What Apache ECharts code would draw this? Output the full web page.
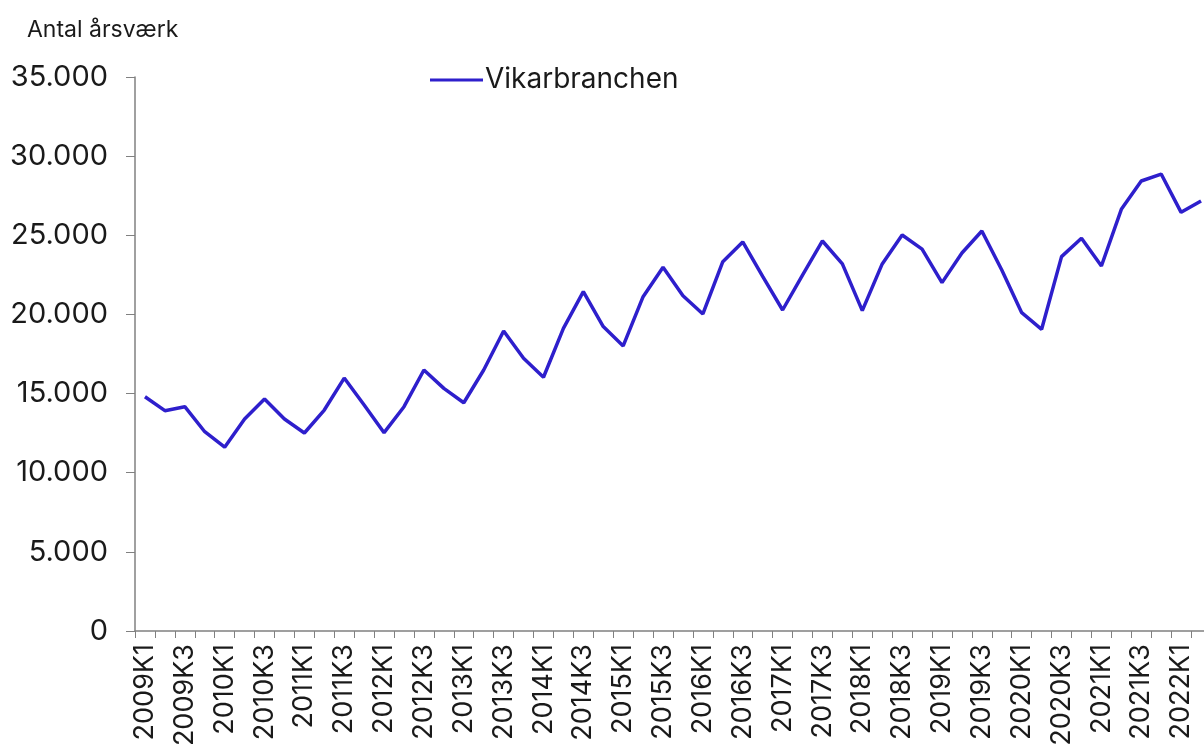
<!DOCTYPE html>
<html>
<head>
<meta charset="utf-8">
<script src="https://cdn.jsdelivr.net/npm/echarts@6/dist/echarts.min.js"></script>
<style>
    html, body { margin: 0; padding: 0; background: #fff; overflow: hidden; }
    #chart { width: 1211px; height: 753px; }
</style>
</head>
<body>
<div id="chart"></div>
<script>
// kvartaler 2009K1 - 2022K2
var years = [2009, 2010, 2011, 2012, 2013, 2014, 2015, 2016, 2017, 2018, 2019, 2020, 2021, 2022];
var quarters = ['K1', 'K2', 'K3', 'K4'];
var categories = [];
years.forEach(function(y) {
    quarters.forEach(function(q) { categories.push(y + q); });
});
categories = categories.slice(0, 54);

var seriesName = 'Vikarbranchen';
var vikar = [
    14800, 13920, 14170, 12590, 11610, 13390, 14660, 13390,
    12510, 13960, 15980, 14280, 12530, 14170, 16490, 15330,
    14420, 16490, 18950, 17230, 16030, 19120, 21440, 19230,
    18010, 21120, 22980, 21180, 20030, 23330, 24580, 22400,
    20280, 22490, 24640, 23190, 20240, 23190, 25020, 24130,
    22010, 23880, 25270, 22810, 20110, 19060, 23650, 24810,
    23060, 26640, 28430, 28870, 26450, 27170
];
var yTicks = [0, 5000, 10000, 15000, 20000, 25000, 30000, 35000];
var yTitle = 'Antal årsværk';

var fontFam = 'Inter, "Liberation Sans", Arial, sans-serif';
var myChart = echarts.init(document.getElementById('chart'));
var option = {
    animation: false,
    backgroundColor: '#fff',
    title: {
        text: yTitle,
        left: 22,
        top: 14,
        textStyle: { color: '#1a1a1a', fontSize: 23, fontWeight: 'normal', fontFamily: fontFam }
    },
    legend: {
        data: [seriesName],
        left: 425,
        top: 61,
        itemWidth: 53,
        itemHeight: 3,
        itemGap: 5,
        icon: 'rect',
        textStyle: { color: '#1a1a1a', fontSize: 28, fontFamily: fontFam, padding: [0, 0, 0, -3] }
    },
    grid: {
        left: 135,
        right: 0,
        top: 77,
        bottom: 122
    },
    xAxis: {
        type: 'category',
        data: categories,
        boundaryGap: true,
        axisLine: { lineStyle: { color: '#808080', width: 1.5 } },
        axisTick: { show: true, interval: 0, length: 7, lineStyle: { color: '#808080' } },
        axisLabel: {
            interval: 1,
            rotate: 90,
            margin: 13,
            color: '#1a1a1a',
            fontSize: 27,
            fontFamily: fontFam
        }
    },
    yAxis: {
        type: 'value',
        min: yTicks[0],
        max: yTicks[yTicks.length - 1],
        interval: 5000,
        splitLine: { show: false },
        axisLine: { show: true, lineStyle: { color: '#808080', width: 1.5 } },
        axisTick: { show: true, length: 9, lineStyle: { color: '#808080' } },
        axisLabel: {
            margin: 27,
            color: '#1a1a1a',
            fontSize: 29,
            fontFamily: fontFam,
            formatter: function(v) {
                return String(v).replace(/\B(?=(\d{3})+(?!\d))/g, '.');
            }
        }
    },
    series: [{
        name: seriesName,
        type: 'line',
        data: vikar,
        symbol: 'none',
        lineStyle: { color: '#2e1fcc', width: 3.5 },
        itemStyle: { color: '#2e1fcc' }
    }]
};
myChart.setOption(option);
</script>
</body>
</html>
